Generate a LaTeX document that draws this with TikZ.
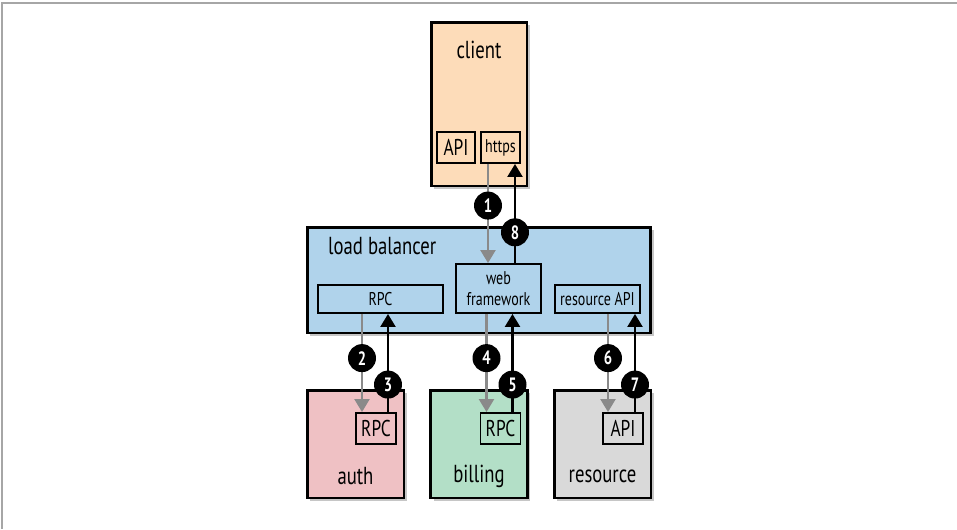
\documentclass[tikz,border=0pt]{standalone}
\usepackage{fontspec}
\setmainfont[FakeStretch=0.76]{PT Sans}
\usetikzlibrary{shapes, arrows.meta, calc, positioning, shadows}
\definecolor{clientbg}{HTML}{FDDCB9}
\definecolor{lbbg}{HTML}{B0D3EB}
\definecolor{authbg}{HTML}{EFC1C4}
\definecolor{billbg}{HTML}{B3DFC7}
\definecolor{resbg}{HTML}{D9D9D9}
\definecolor{reqgray}{HTML}{8A8A8A}
\tikzstyle{block} = [rectangle, draw, line width=1.7pt, inner sep=0pt,
  drop shadow={shadow xshift=0.06cm, shadow yshift=-0.06cm, opacity=0.45}]
\tikzstyle{port} = [rectangle, draw, line width=1.1pt, inner sep=0pt, text centered, font=\fontsize{13}{14}\selectfont]
\tikzstyle{badge} = [circle, fill=black, text=white, inner sep=0pt, minimum size=0.56cm, font=\bfseries\fontsize{11}{12}\selectfont]
\tikzstyle{req} = [draw=reqgray, line width=1.3pt, -{Triangle[length=0.26cm, width=0.3cm]}]
\tikzstyle{resp} = [draw=black, line width=1.3pt, -{Triangle[length=0.26cm, width=0.3cm]}]

\begin{document}
\begin{tikzpicture}[x=0.02cm, y=-0.02cm]
\useasboundingbox (0,0) rectangle (957,529);
\draw[gray!70, line width=0.6pt] (957,3) -- (2,3) -- (2,529);
% client
\node [block, fill=clientbg, minimum width=1.92cm, minimum height=3.28cm] (client) at (479,104) {};
\node [font=\fontsize{14}{15}\selectfont] (clientlabel) at (479,50) {client};
\node [port, minimum width=0.76cm, minimum height=0.62cm] (clientapi) at (456,147.5) {API};
\node [port, minimum width=0.78cm, minimum height=0.62cm, font=\fontsize{10.5}{11}\selectfont] (https) at (500.5,147.5) {https};
% load balancer
\node [block, fill=lbbg, minimum width=6.88cm, minimum height=2.12cm] (lb) at (479,280) {};
\node [anchor=west, font=\fontsize{14}{15}\selectfont] (lblabel) at (322,246) {load balancer};
\node [port, minimum width=2.5cm, minimum height=0.56cm, font=\fontsize{10.5}{11}\selectfont] (lbrpc) at (380.5,299) {RPC};
\node [port, minimum width=1.7cm, minimum height=0.98cm, align=center, font=\fontsize{10.5}{12}\selectfont] (web) at (498.5,288.5) {web\\framework};
\node [port, minimum width=1.7cm, minimum height=0.56cm, font=\fontsize{10.5}{11}\selectfont] (lbres) at (597.5,299) {resource API};
% services
\node [block, fill=authbg, minimum width=1.94cm, minimum height=2.16cm] (auth) at (355.5,444) {};
\node [block, fill=billbg, minimum width=1.94cm, minimum height=2.16cm] (billing) at (479,444) {};
\node [block, fill=resbg, minimum width=1.94cm, minimum height=2.16cm] (resource) at (602.5,444) {};
\node [font=\fontsize{14}{15}\selectfont] (authlabel) at (355.5,476) {auth};
\node [font=\fontsize{14}{15}\selectfont] (billinglabel) at (479,476) {billing};
\node [font=\fontsize{14}{15}\selectfont] (resourcelabel) at (602.5,476) {resource};
\node [port, minimum width=0.8cm, minimum height=0.62cm] (authrpc) at (376,428.5) {RPC};
\node [port, minimum width=0.8cm, minimum height=0.62cm] (billrpc) at (500.5,428.5) {RPC};
\node [port, minimum width=0.8cm, minimum height=0.62cm] (resapi) at (623,428.5) {API};
% calls
\path [req] ([xshift=-0.25cm]https.south) -- ([xshift=-0.25cm]https.south |- web.north) node [badge, pos=0.42] {1};
\path [resp] ([xshift=0.29cm]https.south |- web.north) -- ([xshift=0.29cm]https.south) node [badge, pos=0.31] {8};
\path [req] ([xshift=-0.28cm]authrpc.north |- lbrpc.south) -- ([xshift=-0.28cm]authrpc.north) node [badge, pos=0.45] {2};
\path [resp] ([xshift=0.24cm]authrpc.north) -- ([xshift=0.24cm]authrpc.north |- lbrpc.south) node [badge, pos=0.28] {3};
\path [req] ([xshift=-0.28cm]billrpc.north |- web.south) -- ([xshift=-0.28cm]billrpc.north) node [badge, pos=0.45] {4};
\path [resp] ([xshift=0.24cm]billrpc.north) -- ([xshift=0.24cm]billrpc.north |- web.south) node [badge, pos=0.28] {5};
\path [req] ([xshift=-0.3cm]resapi.north |- lbres.south) -- ([xshift=-0.3cm]resapi.north) node [badge, pos=0.45] {6};
\path [resp] ([xshift=0.24cm]resapi.north) -- ([xshift=0.24cm]resapi.north |- lbres.south) node [badge, pos=0.28] {7};
\end{tikzpicture}
\end{document}
